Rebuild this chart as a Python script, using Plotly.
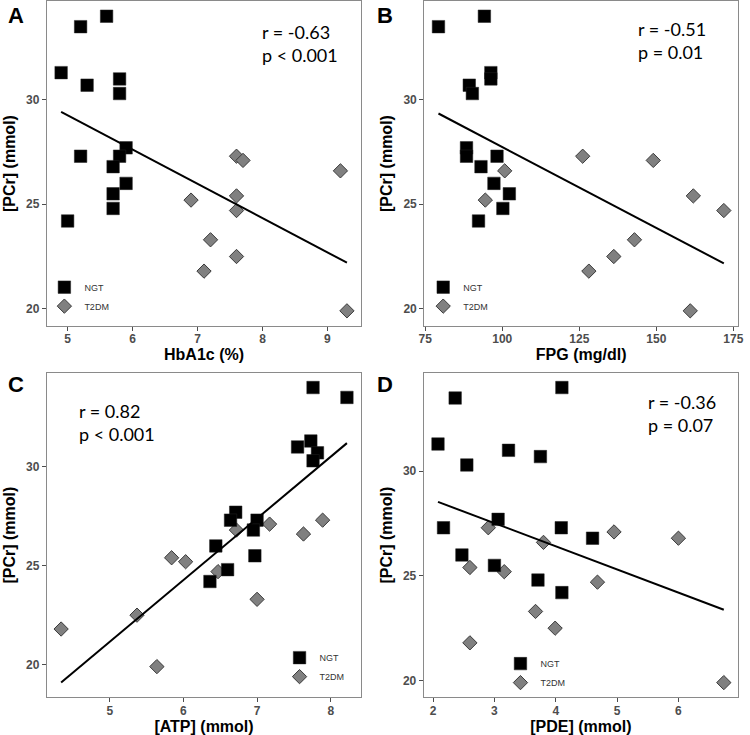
import numpy as np
import plotly.graph_objects as go

# ---------------- data ----------------
# PCr (mmol) per subject (same subjects in every panel)
pcr_ngt = [34.0, 33.5, 31.3, 31.0, 30.7, 30.3, 27.7, 27.3, 27.3, 26.8, 26.0, 25.5, 24.8, 24.2]
pcr_t2dm = [27.3, 27.1, 26.8, 26.6, 25.4, 25.2, 24.7, 23.3, 22.5, 21.8, 19.9]

# Panel A: HbA1c (%)  (None = not shown in that panel)
hba1c_ngt = [5.6, 5.2, 4.9, 5.8, 5.3, 5.8, 5.9, 5.8, 5.2, 5.7, 5.9, 5.7, 5.7, 5.0]
hba1c_t2dm = [7.6, 7.7, None, 9.2, 7.6, 6.9, 7.6, 7.2, 7.6, 7.1, 9.3]

# Panel B: FPG (mg/dl)
fpg_ngt = [94.2, 79.3, 96.3, 96.3, 89.3, 90.3, 88.4, 88.4, 98.3, 93.1, 97.3, 102.3, 100.2, 92.3]
fpg_t2dm = [126.1, 149.0, None, 100.8, 162.0, 94.5, 171.9, 142.9, 136.2, 128.1, 161.0]

# Panel C: [ATP] (mmol)
atp_ngt = [7.76, 8.22, 7.73, 7.55, 7.82, 7.76, 6.71, 6.64, 7.00, 6.95, 6.44, 6.97, 6.60, 6.36]
atp_t2dm = [7.89, 7.17, 6.72, 7.63, 5.84, 6.03, 6.47, 7.00, 5.37, 4.34, 5.64]

# Panel D: [PDE] (mmol)
pde_ngt = [4.10, 2.36, 2.08, 3.23, 3.75, 2.55, 3.06, 2.17, 4.09, 4.60, 2.47, 3.00, 3.71, 4.10]
pde_t2dm = [2.90, 4.95, 6.00, 3.80, 2.60, 3.16, 4.68, 3.67, 3.99, 2.60, 6.74]

panel_letters = ["A", "B", "C", "D"]
x_titles = ["HbA1c (%)", "FPG (mg/dl)", "[ATP] (mmol)", "[PDE] (mmol)"]
y_title = "[PCr] (mmol)"
stats_text = ["r = -0.63<br>p < 0.001", "r = -0.51<br>p = 0.01",
              "r = 0.82<br>p < 0.001", "r = -0.36<br>p = 0.07"]
x_tick0 = [5, 75, 5, 2]
x_dtick = [1, 25, 1, 1]
y_ticks = [20, 25, 30]
group_names = ["NGT", "T2DM"]

# ---------------- layout geometry (px) ----------------
W, H = 750, 735
# (left, right, top, bottom) of each plot frame
frames = [(41.5, 361, 0.5, 325), (425, 744, 0.5, 325),
          (41.5, 361, 372.3, 697.3), (424.5, 744, 372.3, 697.3)]
legend_pos = [(39, 272), (424, 272), (278, 643), (502.5, 649)]
stat_pos = [(258, 18), (640, 15), (72, 397.5), (650, 388.5)]
letter_pos = [(0, 0), (375, 0), (0, 370), (375, 370)]

panels = [(hba1c_ngt, hba1c_t2dm), (fpg_ngt, fpg_t2dm), (atp_ngt, atp_t2dm), (pde_ngt, pde_t2dm)]

fig = go.Figure()
frame_col = "#8a8a8a"
tick_font = dict(family="Liberation Sans", size=12, color="#4d4d4d", weight="bold")
title_font = dict(family="Liberation Sans", size=16, color="#000000", weight="bold")

layout_updates = {}
annotations = []
for i, (xn, xt) in enumerate(panels):
    n = i + 1
    xa = "x" if n == 1 else f"x{n}"
    ya = "y" if n == 1 else f"y{n}"
    leg = "legend" if n == 1 else f"legend{n}"
    pairs = [(x, y) for x, y in zip(list(xn) + list(xt), pcr_ngt + pcr_t2dm) if x is not None]
    xall = np.array([p[0] for p in pairs], dtype=float)
    yall = np.array([p[1] for p in pairs], dtype=float)
    slope, intercept = np.polyfit(xall, yall, 1)
    lx = np.array([xall.min(), xall.max()])
    ly = slope * lx + intercept

    fig.add_trace(go.Scatter(x=xt, y=pcr_t2dm, mode="markers", name=group_names[1],
                             xaxis=xa, yaxis=ya, legend=leg, legendrank=2,
                             marker=dict(symbol="diamond", size=11, color="#808080",
                                         line=dict(color="#3a3a3a", width=1))))
    fig.add_trace(go.Scatter(x=xn, y=pcr_ngt, mode="markers", name=group_names[0],
                             xaxis=xa, yaxis=ya, legend=leg, legendrank=1,
                             marker=dict(symbol="square", size=12.5, color="#000000",
                                         line=dict(color="#222222", width=0.5))))
    fig.add_trace(go.Scatter(x=lx, y=ly, mode="lines", showlegend=False,
                             xaxis=xa, yaxis=ya, line=dict(color="#000000", width=2)))

    # ggplot-like 5% expansion
    xmin, xmax = xall.min(), xall.max()
    ymin, ymax = min(yall.min(), ly.min()), max(yall.max(), ly.max())
    dx, dy = 0.05 * (xmax - xmin), 0.05 * (ymax - ymin)
    l, r, t, b = frames[i]
    axis_common = dict(showgrid=False, zeroline=False, showline=True, mirror=True,
                       linecolor=frame_col, linewidth=1, ticks="outside", ticklen=4,
                       tickcolor="#4d4d4d", tickwidth=1, tickfont=tick_font,
                       ticklabeloverflow="allow")
    layout_updates[f"xaxis{'' if n == 1 else n}"] = dict(
        domain=[l / W, r / W], range=[xmin - dx, xmax + dx], anchor=ya,
        tickmode="linear", tick0=x_tick0[i], dtick=x_dtick[i], ticklabelstandoff=-2,
        title=dict(text=x_titles[i], font=title_font, standoff=0),
        **axis_common)
    layout_updates[f"yaxis{'' if n == 1 else n}"] = dict(
        domain=[1 - b / H, 1 - t / H], range=[ymin - dy, ymax + dy], anchor=xa,
        tickvals=y_ticks, title=dict(text=y_title, font=title_font, standoff=6),
        **axis_common)
    lxp, lyp = legend_pos[i]
    layout_updates[leg] = dict(x=lxp / W, y=1 - lyp / H, xanchor="left", yanchor="top",
                               bgcolor="rgba(0,0,0,0)", borderwidth=0, itemsizing="trace",
                               font=dict(family="Liberation Sans", size=9, color="#333333"),
                               traceorder="normal")
    sx, sy = stat_pos[i]
    annotations.append(dict(text=stats_text[i], x=sx / W, y=1 - sy / H, xref="paper", yref="paper",
                            xanchor="left", yanchor="top", align="left", showarrow=False,
                            font=dict(family="Lato", size=18, color="#000000")))
    px_, py_ = letter_pos[i]
    annotations.append(dict(text=panel_letters[i], x=px_ / W, y=1 - py_ / H, xref="paper", yref="paper",
                            xanchor="left", yanchor="top", showarrow=False,
                            font=dict(family="Liberation Sans", size=22, color="#000000", weight="bold")))

fig.update_layout(width=W, height=H, margin=dict(l=0, r=0, t=0, b=0),
                  plot_bgcolor="white", paper_bgcolor="white",
                  annotations=annotations, **layout_updates)
fig.write_html("out.html", config={"displayModeBar": False},
               post_script="document.body.style.margin='0';document.body.style.overflow='hidden';")
